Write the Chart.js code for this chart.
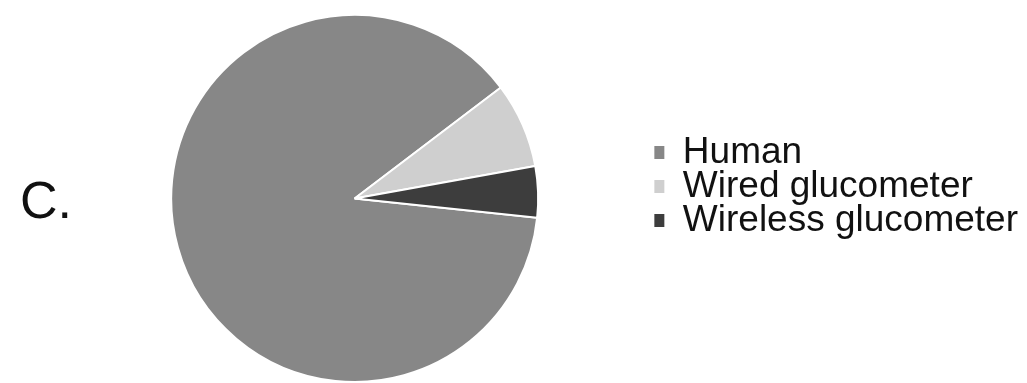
<!DOCTYPE html>
<html>
<head>
<meta charset="utf-8">
<script src="https://cdn.jsdelivr.net/npm/chart.js@4"></script>
<style>
  html, body { margin: 0; padding: 0; background: #fff; }
  #wrap { position: relative; width: 1027px; height: 383px; }
  #panel-label {
    position: absolute; left: 20px; top: 170px;
    font-family: "Liberation Sans", Arial, sans-serif; font-size: 52px; color: #111;
  }
</style>
</head>
<body>
<div id="wrap">
  <canvas id="pie" width="1027" height="383"></canvas>
  <div id="panel-label">C.</div>
</div>
<script>
const categories = ['Human', 'Wired glucometer', 'Wireless glucometer'];
const shares = [88, 7.5, 4.5];
const sliceColors = ['#878787', '#cfcfcf', '#3d3d3d'];

// nudge the legend up a bit, it sits above the pie centre in the original
const legendShift = {
    id: 'legendShift',
    afterLayout(chart) {
        chart.legend.top -= 13;
        chart.legend.bottom -= 13;
    }
};

document.addEventListener('DOMContentLoaded', () => {
    const ctx = document.getElementById('pie');
    new Chart(ctx, {
        type: 'pie',
        data: {
            labels: categories,
            datasets: [{
                data: shares,
                backgroundColor: sliceColors,
                borderColor: '#ffffff',
                borderWidth: 2
            }]
        },
        options: {
            responsive: false,
            animation: false,
            rotation: 96,
            layout: { padding: { left: 55, top: 14, bottom: -2, right: -1 } },
            plugins: {
                legend: {
                    position: 'right',
                    align: 'center',
                    labels: {
                        boxWidth: 13,
                        boxHeight: 13,
                        padding: -3,
                        color: '#111',
                        font: { family: '"Liberation Sans", Arial, sans-serif', size: 37 },
                        generateLabels: chart =>
                            Chart.overrides.pie.plugins.legend.labels.generateLabels(chart)
                                .map(item => ({ ...item, lineWidth: 0 }))
                    }
                },
                tooltip: { enabled: false }
            }
        },
        plugins: [legendShift]
    });
});
</script>
</body>
</html>
